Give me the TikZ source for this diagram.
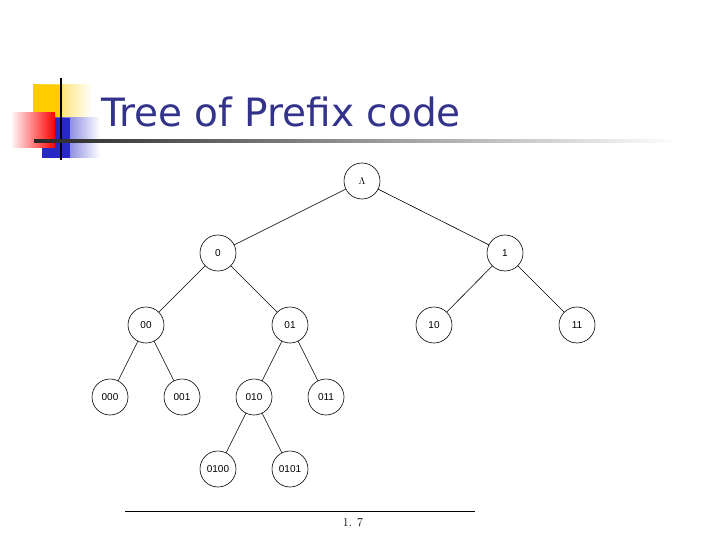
\documentclass[tikz,border=0pt]{standalone}
\usepackage{fontspec}
\newfontfamily\titlefont{DejaVu Sans}
\newfontfamily\nodefont{Liberation Sans}
\usetikzlibrary{shadings}
\definecolor{titleblue}{RGB}{51,51,140}
\definecolor{sqyellow}{RGB}{255,204,0}
\definecolor{sqblue}{RGB}{40,40,200}
\tikzset{
  tn/.style={circle,draw,line width=0.6pt,minimum size=36pt,inner sep=0pt,font=\nodefont\fontsize{10}{11}\selectfont},
  edge/.style={line width=0.6pt}
}
\begin{document}
\begin{tikzpicture}[x=1pt,y=-1pt]
\useasboundingbox (0,0) rectangle (720,540);
\fill[white] (0,0) rectangle (720,540);
% decoration
\shade[left color=sqyellow,right color=white] (33,85) rectangle (92,128);
\fill[sqyellow] (33,85) rectangle (62,128);
\shade[left color=sqblue,right color=white] (42,118) rectangle (100,158);
\fill[sqblue] (42,118) rectangle (70,158);
\shade[left color=white,right color=red] (10,113) rectangle (55,148);
\draw[line width=1.5pt] (61,78) -- (61,160);
\shade[left color=black!85,right color=white] (34,140) rectangle (680,142.5);
\node[anchor=base west,text=titleblue,font=\titlefont\fontsize{39}{42}\selectfont,inner sep=0pt] (title) at (101,127) {Tree of Prefix code};
% tree
\node[tn] (r) at (362,181) {$\Lambda$};
\node[tn] (n0) at (218,253) {0};
\node[tn] (n1) at (505,253) {1};
\node[tn] (n00) at (146,325) {00};
\node[tn] (n01) at (290,325) {01};
\node[tn] (n10) at (434,325) {10};
\node[tn] (n11) at (577,325) {11};
\node[tn] (n000) at (110,397) {000};
\node[tn] (n001) at (182,397) {001};
\node[tn] (n010) at (254,397) {010};
\node[tn] (n011) at (326,397) {011};
\node[tn] (n0100) at (218,469) {0100};
\node[tn] (n0101) at (290,469) {0101};
\foreach \a/\b in {r/n0,r/n1,n0/n00,n0/n01,n1/n10,n1/n11,n00/n000,n00/n001,n01/n010,n01/n011,n010/n0100,n010/n0101}
  \draw[edge] (\a) -- (\b);
% footer
\coordinate (fl) at (125,511);
\coordinate (fr) at (475,511);
\draw[thin] (fl) -- (fr);
\node[font=\fontsize{12}{14}\selectfont] (pg) at (353,523) {1. 7};
\end{tikzpicture}
\end{document}
